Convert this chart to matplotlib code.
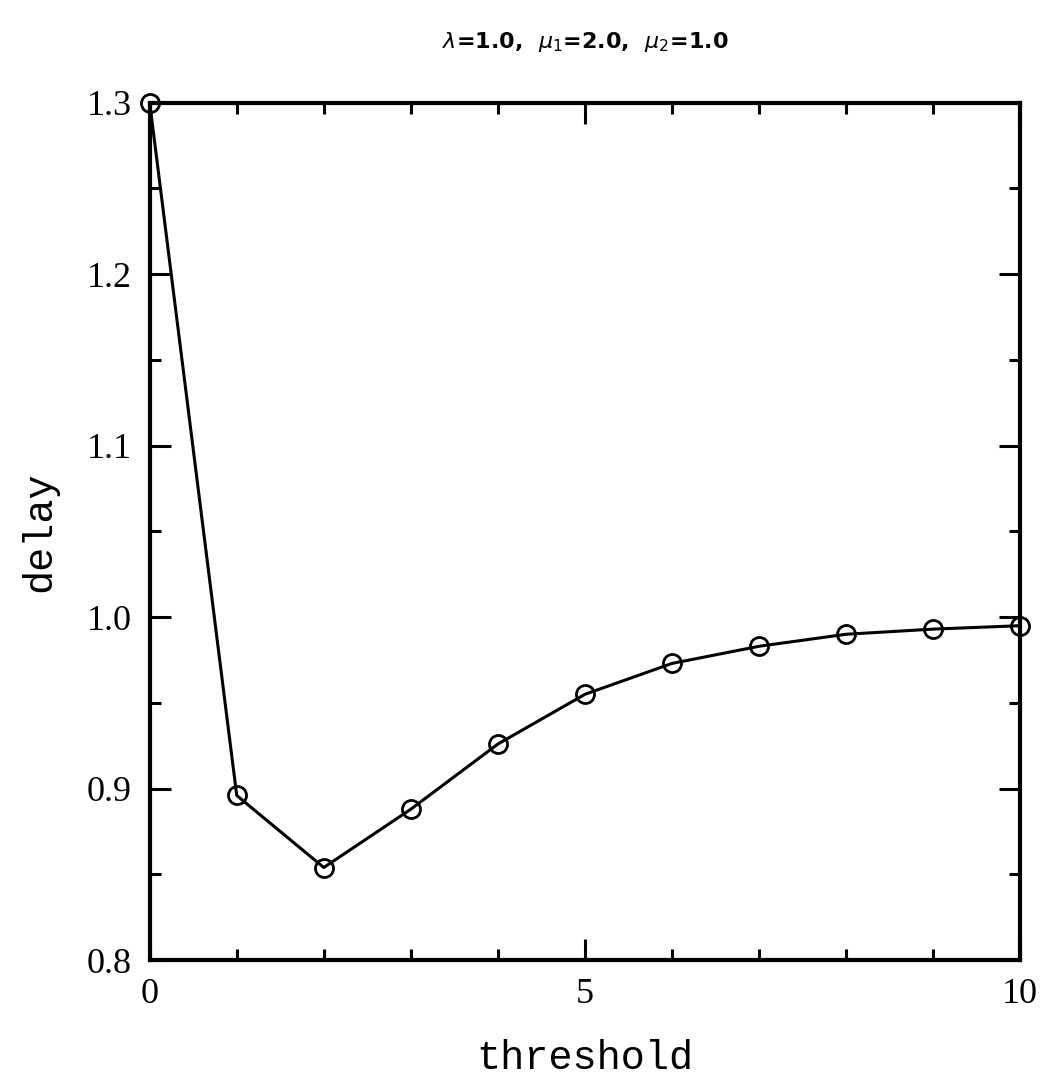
import matplotlib
matplotlib.use("Agg")
import matplotlib.pyplot as plt
import numpy as np
from matplotlib.ticker import MultipleLocator

threshold = [0, 1, 2, 3, 4, 5, 6, 7, 8, 9, 10]
delay = [1.300, 0.896, 0.854, 0.888, 0.926, 0.955, 0.973, 0.983, 0.990, 0.993, 0.995]

fig = plt.figure(figsize=(10.54, 10.8), dpi=100)
ax = fig.add_axes([0.142, 0.111, 0.826, 0.794])

ax.plot(threshold, delay, color='black', lw=2.2, marker='o', markersize=13,
        markerfacecolor='none', markeredgecolor='black', markeredgewidth=2,
        clip_on=False, zorder=3)

ax.set_xlim(0, 10)
ax.set_ylim(0.8, 1.3)
ax.xaxis.set_major_locator(MultipleLocator(5))
ax.xaxis.set_minor_locator(MultipleLocator(1))
ax.yaxis.set_major_locator(MultipleLocator(0.1))
ax.yaxis.set_minor_locator(MultipleLocator(0.05))
ax.tick_params(which='both', direction='in', top=True, right=True, width=2.2)
ax.tick_params(which='major', length=15, labelsize=26, pad=13)
ax.tick_params(which='minor', length=8)
ax.xaxis.set_major_formatter(plt.FuncFormatter(lambda v, p: f"{v:g}"))
ax.yaxis.set_major_formatter(plt.FuncFormatter(lambda v, p: f"{v:.1f}"))
for lab in ax.get_xticklabels() + ax.get_yticklabels():
    lab.set_family('Liberation Serif')
for s in ax.spines.values():
    s.set_linewidth(3)

ax.set_xlabel('threshold', fontsize=29, family='Liberation Mono', labelpad=20)
ax.set_ylabel('delay', fontsize=29, family='Liberation Mono', labelpad=20)
fig.text(0.555, 0.961, r'$\lambda$=1.0,  $\mu_1$=2.0,  $\mu_2$=1.0', ha='center',
         va='center', fontsize=16, fontweight='bold', family='DejaVu Sans')

fig.savefig('out.png', dpi=100)
